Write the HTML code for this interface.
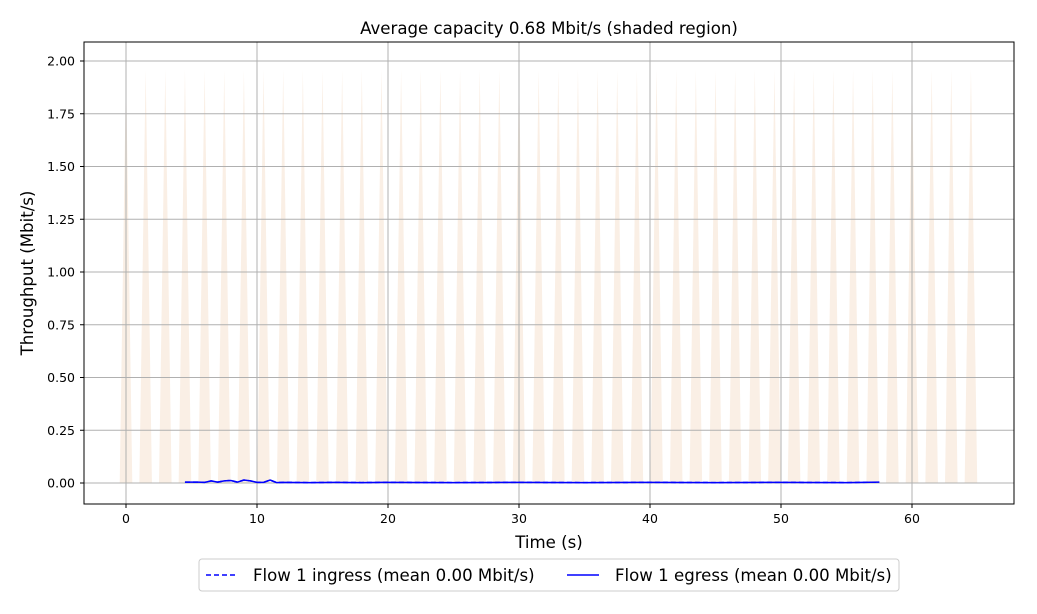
<!DOCTYPE html>
<html><head><meta charset="utf-8"><style>
body{margin:0;background:#fff;font-family:"DejaVu Sans",sans-serif}
</style></head><body>
<svg id="c" width="1037" height="610" style="font-family:'DejaVu Sans','Liberation Sans',sans-serif"></svg>
<script>
const capPeakTimes=[];for(let k=0;k<44;k++)capPeakTimes.push(k*1.5);
const capPeakValue=1.96, capHalfWidth=0.48;
const xTicks=[0,10,20,30,40,50,60];
const yTicks=[0,0.25,0.5,0.75,1.0,1.25,1.5,1.75,2.0];
const yTickLabels=["0.00","0.25","0.50","0.75","1.00","1.25","1.50","1.75","2.00"];
const egressT=[4.5,5.5,6,6.5,7,7.5,8,8.5,9,9.5,10,10.5,11,11.5,12,14,16,18,20,25,30,35,40,45,50,55,57.5];
const egressV=[0.004,0.004,0.003,0.01,0.004,0.01,0.012,0.004,0.014,0.01,0.003,0.003,0.014,0.002,0.003,0.002,0.003,0.002,0.003,0.002,0.003,0.002,0.003,0.002,0.003,0.002,0.004];
const ingressT=egressT, ingressV=egressV;
const X0=126,XS=(912-126)/60,Y0=483,YS=(483-61)/2;
const x=t=>X0+t*XS, y=v=>Y0-v*YS;
const svg=document.getElementById('c');const NS="http://www.w3.org/2000/svg";
function mk(tag,at,name,txt){const e=document.createElementNS(NS,tag);for(const k in at)e.setAttribute(k,at[k]);


if(txt!==undefined)e.textContent=txt;svg.appendChild(e);return e;}
mk('rect',{x:84,y:42,width:930,height:462,fill:'#fff'},'plot-area');
capPeakTimes.forEach(t=>{mk('polygon',{points:`${x(t-capHalfWidth)},${y(0)} ${x(t)},${y(capPeakValue)} ${x(t+capHalfWidth)},${y(0)}`,fill:'#faefe5'},'capacity-spike');});
xTicks.forEach(t=>{mk('line',{x1:x(t),x2:x(t),y1:42,y2:504,stroke:'#b0b0b0','stroke-width':1},'x-gridline');
mk('line',{x1:x(t),x2:x(t),y1:504,y2:508,stroke:'#000'},'x-tick');
mk('text',{x:x(t),y:523,'text-anchor':'middle','font-size':12.5},'x-tick-label',String(t));});
yTicks.forEach((v,i)=>{mk('line',{x1:84,x2:1014,y1:y(v),y2:y(v),stroke:'#b0b0b0','stroke-width':1},'y-gridline');
mk('line',{x1:80,x2:84,y1:y(v),y2:y(v),stroke:'#000'},'y-tick');
mk('text',{x:75,y:y(v)+4.5,'text-anchor':'end','font-size':12.5},'y-tick-label',yTickLabels[i]);});
mk('path',{d:ingressT.map((t,i)=>(i?'L':'M')+x(t)+','+y(ingressV[i])).join(''),fill:'none',stroke:'#0000ff','stroke-width':1.5,'stroke-dasharray':'5,3'},'ingress-line');
mk('path',{d:egressT.map((t,i)=>(i?'L':'M')+x(t)+','+y(egressV[i])).join(''),fill:'none',stroke:'#0000ff','stroke-width':1.5},'egress-line');
mk('rect',{x:84,y:42,width:930,height:462,fill:'none',stroke:'#000','stroke-width':1},'plot-frame');
mk('text',{x:549,y:34,'text-anchor':'middle','font-size':16.6},'chart-title','Average capacity 0.68 Mbit/s (shaded region)');
mk('text',{x:549,y:548,'text-anchor':'middle','font-size':16.6},'x-axis-title','Time (s)');
mk('text',{x:33,y:273,'text-anchor':'middle','font-size':16.6,transform:'rotate(-90 33 273)'},'y-axis-title','Throughput (Mbit/s)');
mk('rect',{x:199,y:559,width:700,height:32,fill:'#fff',stroke:'#ccc',rx:3},'legend');
mk('line',{x1:206,x2:238,y1:575,y2:575,stroke:'#0000ff','stroke-width':1.5,'stroke-dasharray':'5,3'},'legend-ingress-swatch');
mk('text',{x:253,y:581,'font-size':16.6},'legend-ingress-label','Flow 1 ingress (mean 0.00 Mbit/s)');
mk('line',{x1:567,x2:599,y1:575,y2:575,stroke:'#0000ff','stroke-width':1.5},'legend-egress-swatch');
mk('text',{x:615,y:581,'font-size':16.6},'legend-egress-label','Flow 1 egress (mean 0.00 Mbit/s)');
</script></body></html>
